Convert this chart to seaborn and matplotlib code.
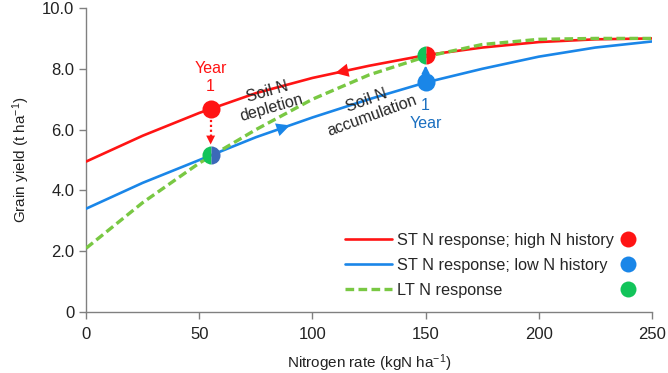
import numpy as np
import pandas as pd
import matplotlib
matplotlib.use("Agg")
import matplotlib.pyplot as plt
import seaborn as sns
from matplotlib.lines import Line2D

# ---- data ----
n_rate = [0, 25, 50, 75, 100, 125, 150, 175, 200, 225, 250]
st_high = [4.95, 5.8, 6.55, 7.2, 7.7, 8.1, 8.45, 8.7, 8.88, 8.97, 9.0]
st_low = [3.4, 4.25, 5.0, 5.75, 6.4, 7.0, 7.55, 8.0, 8.4, 8.7, 8.9]
lt_resp = [2.1, 3.6, 4.9, 6.0, 7.0, 7.8, 8.4, 8.8, 8.97, 9.0, 9.0]
labels = ["ST N response; high N history", "ST N response; low N history", "LT N response"]
x_ticks = [0, 50, 100, 150, 200, 250]
y_ticks = [0, 2, 4, 6, 8, 10]
y_ticklabels = ["0", "2.0", "4.0", "6.0", "8.0", "10.0"]
year1_x = 55        # N rate for the low-N state
year2_x = 150       # N rate for the high-N state

RED = "#ff1414"
BLUE = "#1a86e8"
LGREEN = "#79c843"
GREEN = "#12c45a"
DBLUE = "#3b69b8"

sns.set_theme(style="ticks")
plt.rcParams["font.family"] = ["Liberation Sans", "DejaVu Sans"]
plt.rcParams["mathtext.fontset"] = "custom"
plt.rcParams["mathtext.rm"] = "Liberation Sans"
plt.rcParams["mathtext.it"] = "Liberation Sans:italic"

fig = plt.figure(figsize=(6.68, 3.73), dpi=100)
ax = fig.add_axes([0.129, 0.1635, 0.847, 0.815])

LW = 1.9
DASH = (2.6, 1.3)
df = pd.DataFrame({"x": n_rate * 3,
                   "y": st_high + st_low + lt_resp,
                   "series": [labels[0]] * len(n_rate) + [labels[1]] * len(n_rate) + [labels[2]] * len(n_rate)})
pal = {labels[0]: RED, labels[1]: BLUE, labels[2]: LGREEN}
sns.lineplot(data=df[df.series != labels[2]], x="x", y="y", hue="series",
             palette=pal, linewidth=LW, ax=ax, legend=False, zorder=3)
sns.lineplot(data=df[df.series == labels[2]], x="x", y="y", color=LGREEN,
             linewidth=2.4, ax=ax, legend=False, zorder=3.5, linestyle=(0, DASH))

# arrowheads on curves
def arrowhead(xs, ys, xa, direction, color):
    xa2 = xa + direction * 2
    ax.annotate("", xy=(xa2, np.interp(xa2, xs, ys)), xytext=(xa, np.interp(xa, xs, ys)),
                arrowprops=dict(arrowstyle="-|>", color=color, lw=0, mutation_scale=24), zorder=4)

arrowhead(n_rate, st_high, 112, -1, RED)
arrowhead(n_rate, st_low, 88, 1, BLUE)

yr_hi = np.interp(year1_x, n_rate, st_high)
yr_lo = np.interp(year1_x, n_rate, st_low)
yb_lo = np.interp(year2_x, n_rate, st_low)
yb_hi = np.interp(year2_x, n_rate, st_high)

# vertical arrows
ax.plot([year1_x, year1_x], [yr_hi - 0.2, yr_lo + 0.5], color=RED, lw=1.6, ls=(0, (1, 1.2)), zorder=4)
ax.annotate("", xy=(year1_x, yr_lo + 0.27), xytext=(year1_x, yr_lo + 0.5),
            arrowprops=dict(arrowstyle="-|>", color=RED, lw=0, mutation_scale=16), zorder=4)
ax.annotate("", xy=(year2_x, yb_hi - 0.25), xytext=(year2_x, yb_lo + 0.1),
            arrowprops=dict(arrowstyle="-|>", color=BLUE, lw=1.5, mutation_scale=11), zorder=4)

# markers
ax.plot([year1_x], [yr_hi], "o", color=RED, ms=13, zorder=6, mec="none")
ax.plot([year2_x], [yb_lo], "o", color=BLUE, ms=13, zorder=6, mec="none")
ax.plot([year1_x], [yr_lo], "o", ms=13, fillstyle="left", markerfacecolor=GREEN,
        markerfacecoloralt=DBLUE, mec="none", zorder=6)
ax.plot([year2_x], [yb_hi], "o", ms=13, fillstyle="left", markerfacecolor=GREEN,
        markerfacecoloralt=RED, mec="none", zorder=6)

ax.text(year1_x, yr_hi + 0.5, "Year\n1", color=RED, ha="center", va="bottom", fontsize=11.5, linespacing=1.25)
ax.text(year2_x, yb_lo - 0.5, "1\nYear", color="#1a6fc0", ha="center", va="top", fontsize=11.5, linespacing=1.25)

ax.text(81, 6.98, "Soil N\ndepletion", rotation=16, ha="center", va="center", fontsize=11.5,
        linespacing=1.1, rotation_mode="anchor")
ax.text(125, 6.72, "Soil N\naccumulation", rotation=20, ha="center", va="center", fontsize=11.5,
        linespacing=1.1, rotation_mode="anchor")

ax.set_xlim(0, 250)
ax.set_ylim(0, 10)
ax.set_xticks(x_ticks)
ax.set_yticks(y_ticks)
ax.set_yticklabels(y_ticklabels)
ax.tick_params(labelsize=12, length=5, width=1, colors="#222222")
ax.tick_params(axis="both", color="#808080")
ax.tick_params(axis="x", pad=6)
for s in ["left", "bottom"]:
    ax.spines[s].set_color("#808080")
    ax.spines[s].set_linewidth(1)
sns.despine(ax=ax)
ax.set_xlabel(r"Nitrogen rate (kgN ha$^{-1}$)", fontsize=11, color="#222222", labelpad=7)
ax.set_ylabel(r"Grain yield (t ha$^{-1}$)", fontsize=11, color="#222222", labelpad=7)

# legends
h_lines = [Line2D([], [], color=RED, lw=LW),
           Line2D([], [], color=BLUE, lw=LW),
           Line2D([], [], color=LGREEN, lw=2.4, ls=(0, DASH))]
anchor_y = (373 - 233) / 373
leg1 = ax.legend(h_lines, labels, loc="upper left", bbox_to_anchor=(345 / 668, anchor_y),
                 bbox_transform=fig.transFigure, frameon=False, fontsize=11.7, handlelength=2.9,
                 handletextpad=0.3, labelspacing=0.6, borderpad=0, borderaxespad=0)
ax.add_artist(leg1)
h_dots = [Line2D([], [], marker="o", ls="none", color=c, ms=11.5, mec="none") for c in [RED, BLUE, GREEN]]
ax.legend(h_dots, ["", "", ""], loc="upper left", bbox_to_anchor=(620 / 668, anchor_y),
          bbox_transform=fig.transFigure, frameon=False, fontsize=11.7, handlelength=1,
          handletextpad=0, labelspacing=0.6, borderpad=0, borderaxespad=0)

fig.savefig("out.png", dpi=100)
